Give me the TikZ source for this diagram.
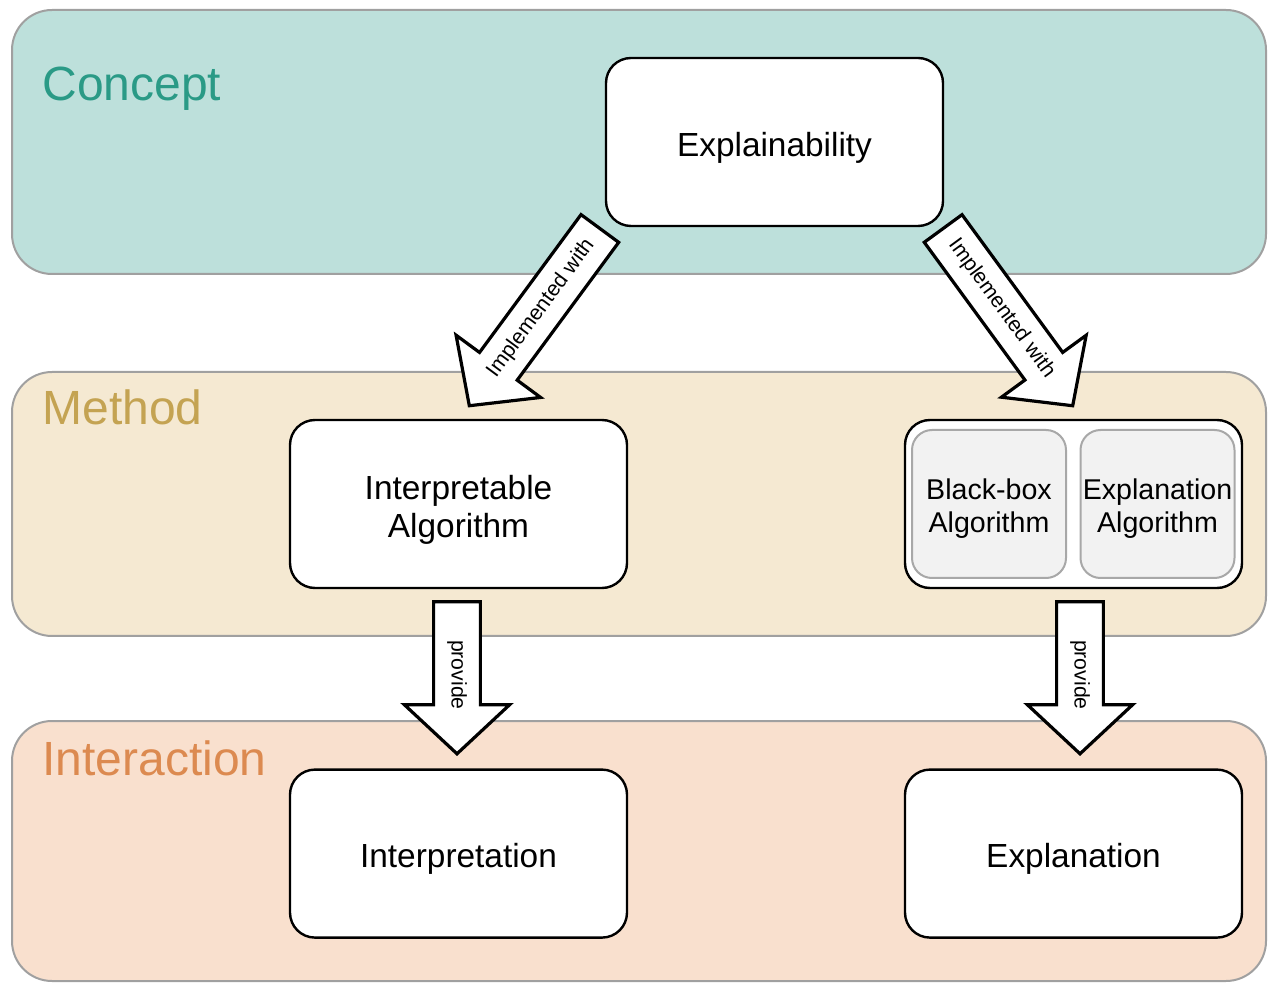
\documentclass[tikz,border=0pt]{standalone}
\usepackage{fontspec}
\setmainfont{Liberation Sans}
\usepackage{tikz}
\usetikzlibrary{positioning}
\usetikzlibrary{calc}
\usetikzlibrary{shapes}
\usetikzlibrary{shapes.arrows}

\definecolor{conceptbg}{HTML}{BDE0DB}
\definecolor{concepttx}{HTML}{2A9A86}
\definecolor{methodbg}{HTML}{F5E9D2}
\definecolor{methodtx}{HTML}{C4A352}
\definecolor{interbg}{HTML}{F9E0CE}
\definecolor{intertx}{HTML}{DC8A50}
\definecolor{bandline}{HTML}{A0A0A0}
\definecolor{innerbg}{HTML}{F2F2F2}
\definecolor{innerline}{HTML}{A8A8A8}

\begin{document}
\begin{tikzpicture}[
    x=0.5pt, y=-0.5pt,               % one unit per pixel of the sketch
    node distance=89.6pt and 137.8pt, % Global setup of box spacing
    ]
% -------------------------------------------------
\tikzset{
  band/.style={draw=bandline, line width=1pt, rounded corners=20pt},
  tag/.style={anchor=base west, inner sep=0pt, font=\fontsize{24}{28}\selectfont},
  base/.style={draw, line width=1.2pt, rounded corners=12.5pt, fill=white, align=center,
    execute at begin node={\rule{0pt}{1.05em}}},
  box/.style={base, minimum width=168.5pt, minimum height=84pt, text width=155pt,
    font=\fontsize{16.7}{19}\selectfont},
  part/.style={base, draw=innerline, line width=1pt, fill=innerbg, rounded corners=10pt,
    minimum width=77pt, minimum height=74pt, text width=75pt, inner xsep=1pt,
    font=\fontsize{14.3}{16.5}\selectfont},
  fat/.style={single arrow, draw, line width=1.6pt, fill=white, minimum width=52.5pt,
    single arrow head extend=14pt, single arrow tip angle=94, inner xsep=1pt, inner ysep=5.5pt,
    anchor=tail, font=\fontsize{10.6}{12}\selectfont},
  down/.style={fat, rotate=-90, minimum height=76pt, execute at begin node={\hspace*{8pt}}}
}
\useasboundingbox (0,0) rectangle (1269,983);
% bands
\path [band, fill=conceptbg] (12,10) rectangle (1266,274);
\path [band, fill=methodbg] (12,372) rectangle (1266,636);
\path [band, fill=interbg] (12,721) rectangle (1266,981);
\node [tag, text=concepttx] (cpt) at (42,101) {Concept};
\node [tag, text=methodtx] (mth) at (42,425) {Method};
\node [tag, text=intertx] (itc) at (42,775) {Interaction};
% boxes
\node [box] (expl) at (774.5,142) {Explainability};
\node [box] (ia) at (458.5,504) {Interpretable\\Algorithm};
\node [draw, line width=1.2pt, rounded corners=12.5pt, fill=white,
       minimum width=168.5pt, minimum height=84pt, right=of ia] (cont) {};
\node [part] (bb) at (989,504) {Black-box\\Algorithm};
\node [part] (ea) at (1157.5,504) {Explanation\\Algorithm};
\node [box, below=of ia] (it) {Interpretation};
\node [box, below=of cont] (ex) {Explanation};
% block arrows
\coordinate (l1) at ($(expl.south west)+(-4,0)$);
\coordinate (l2) at ($(ia.north)+(11.5,-14)$);
\coordinate (r1) at ($(expl.south east)+(-2,0)$);
\coordinate (r2) at ($(cont.north)+(-1.5,-14)$);
\path let \p1=(l1), \p2=(l2), \n1={atan2(\y2-\y1,\x2-\x1)}, \n2={veclen(\x2-\x1,\y2-\y1)} in
  node [fat, rotate=\n1+180, shape border rotate=180, minimum height=\n2] (ll) at (l1) {Implemented with};
\path let \p1=(r1), \p2=(r2), \n1={atan2(\y2-\y1,\x2-\x1)}, \n2={veclen(\x2-\x1,\y2-\y1)} in
  node [fat, rotate=\n1, minimum height=\n2] (rr) at (r1) {Implemented with};
\node [down] (lp) at ($(ia.south)+(-1.5,11)$) {provide};
\node [down] (rp) at ($(cont.south)+(6.5,11)$) {provide};
\end{tikzpicture}
\end{document}
